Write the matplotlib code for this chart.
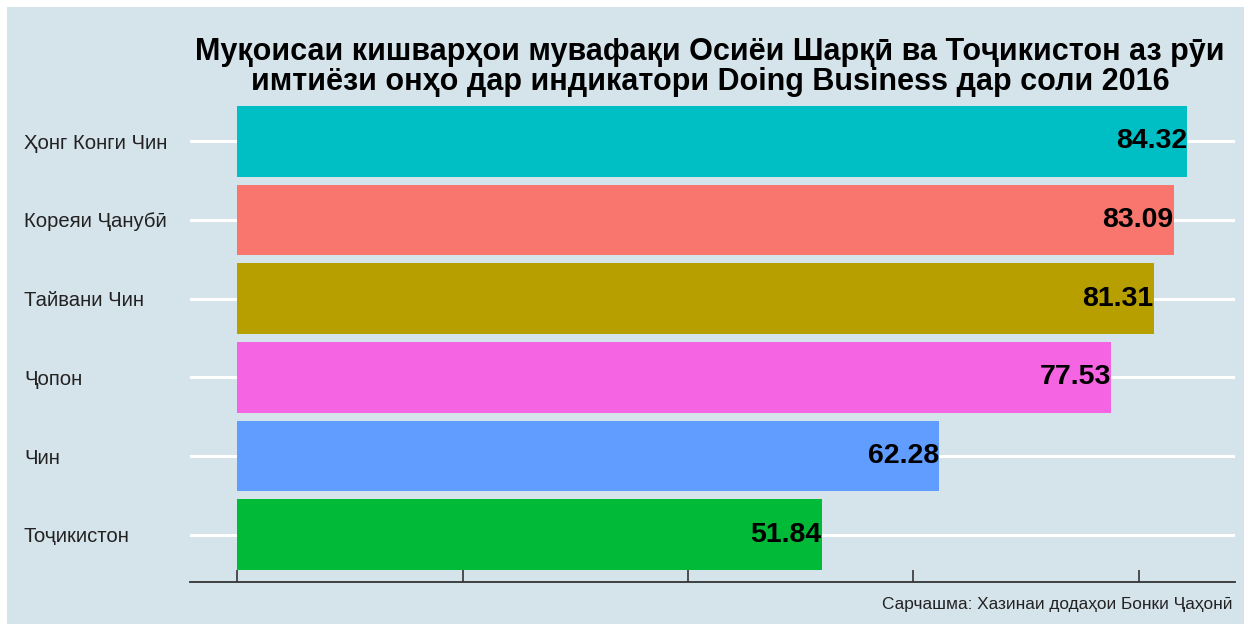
import matplotlib
matplotlib.use("Agg")
import matplotlib.pyplot as plt
from matplotlib.patches import Rectangle

plt.rcParams['font.family'] = ['Liberation Sans', 'DejaVu Sans']

countries = ['Тоҷикистон', 'Чин', 'Ҷопон', 'Тайвани Чин', 'Кореяи Ҷанубӣ', 'Ҳонг Конги Чин']
scores = [51.84, 62.28, 77.53, 81.31, 83.09, 84.32]
colors = ['#00BA38', '#619CFF', '#F564E3', '#B79F00', '#F8766D', '#00BFC4']
x_ticks = [0, 20, 40, 60, 80]

title = ('Муқоисаи кишварҳои мувафақи Осиёи Шарқӣ ва Тоҷикистон аз рӯи\n'
         'имтиёзи онҳо дар индикатори Doing Business дар соли 2016')
caption = 'Сарчашма: Хазинаи додаҳои Бонки Ҷаҳонӣ'

bg = '#d5e3ea'

fig = plt.figure(figsize=(12.44, 6.24), dpi=100, facecolor='white')
fig.patches.append(Rectangle((7 / 1244, 0), 1, 1 - 7 / 624, transform=fig.transFigure,
                             facecolor=bg, edgecolor='none', zorder=-10))
ax = fig.add_axes([190 / 1244, 1 - 582 / 624, 1045 / 1244, 488 / 624])
ax.set_facecolor(bg)

ypos = list(range(len(countries)))
ax.barh(ypos, scores, height=0.9, color=colors, zorder=2)
for y, v in zip(ypos, scores):
    ax.text(v, y, f'{v:.2f}', ha='right', va='center', fontsize=20.5,
            fontweight='bold', color='black', zorder=3)

ax.set_xlim(-4.216, 88.54)
ax.set_ylim(-0.6, len(countries) - 0.4)
ax.set_yticks(ypos)
ax.set_yticklabels(countries, fontsize=14.6, color='#222222', ha='left')
ax.tick_params(axis='y', length=0, pad=166 * 0.72)
ax.set_xticks(x_ticks)
ax.set_xticklabels([])
ax.tick_params(axis='x', direction='in', length=9, width=1.2, color='#333333')
ax.grid(axis='y', color='white', linewidth=2.2, zorder=0)
ax.grid(axis='x', visible=False)
for s in ['top', 'right', 'left']:
    ax.spines[s].set_visible(False)
ax.spines['bottom'].set_color('#333333')
ax.spines['bottom'].set_linewidth(1.3)

fig.text(710 / 1244, 1 - 67 / 624, title, ha='center', va='center', fontsize=22,
         fontweight='bold', linespacing=1.02)
fig.text(1232 / 1244, 1 - 605 / 624, caption, ha='right', va='center', fontsize=12.4,
         color='#222222')

fig.savefig('out.png', dpi=100, facecolor=fig.get_facecolor())
